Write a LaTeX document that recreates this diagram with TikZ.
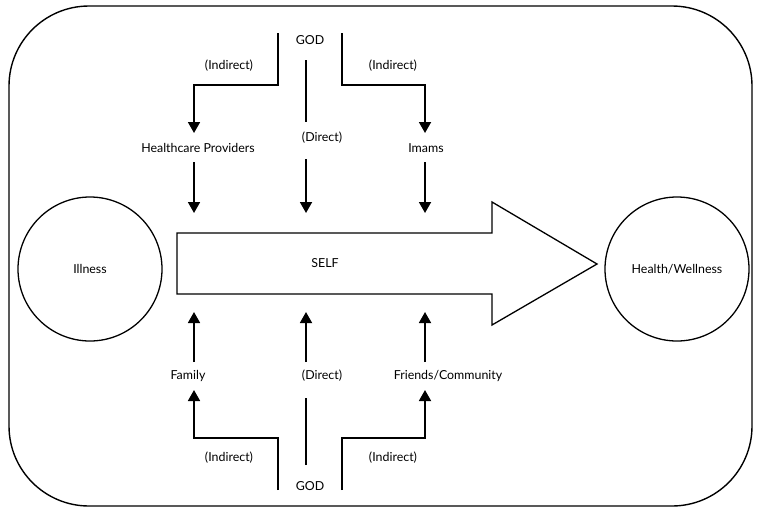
\documentclass[tikz,border=0pt]{standalone}
\usepackage{fontspec}
\setmainfont{Lato}
\usetikzlibrary{arrows.meta}
\begin{document}
\begin{tikzpicture}[x=1pt,y=-1pt,
  lbl/.style={font=\fontsize{12.4}{14}\selectfont, inner sep=1pt},
  ring/.style={draw, circle, line width=1.3pt, minimum size=144pt, inner sep=0pt, font=\fontsize{12.4}{14}\selectfont},
  conn/.style={line width=1.8pt, line join=miter},
  arr/.style={conn, -{Triangle[width=12pt,length=11pt]}},
  frame/.style={draw, line width=1.4pt, rounded corners=80pt}]
\useasboundingbox (0,0) rectangle (760,512);
\draw[frame] (9,6) rectangle (752,506);
% circles
\node[ring] (ill) at (90,269) {Illness};
\node[ring] (hw) at (677,269) {Health/Wellness};
% SELF arrow
\draw[line width=1.3pt, line join=miter] (177,233) -- (492,233) -- (492,202) -- (597,264) -- (492,325) -- (492,294) -- (177,294) -- cycle;
\node[lbl] (self) at (325,263) {SELF};
% top texts
\node[lbl] (godt) at (310,40) {GOD};
\node[lbl] (indtl) at (229,66) {(Indirect)};
\node[lbl] (indtr) at (393,66) {(Indirect)};
\node[lbl] (dirt) at (322,138) {(Direct)};
\node[lbl] (hp) at (198,148) {Healthcare Providers};
\node[lbl] (imams) at (426,148) {Imams};
% bottom texts
\node[lbl] (godb) at (310,486) {GOD};
\node[lbl] (indbl) at (229,458) {(Indirect)};
\node[lbl] (indbr) at (393,458) {(Indirect)};
\node[lbl] (dirb) at (322,376) {(Direct)};
\node[lbl] (fam) at (188,376) {Family};
\node[lbl] (fc) at (448,376) {Friends/Community};
% coordinates top
\coordinate (tl0) at (278,33); \coordinate (tl1) at (278,85); \coordinate (tl2) at (194,133);
\coordinate (tr0) at (342,33); \coordinate (tr1) at (342,85); \coordinate (tr2) at (425,133);
\coordinate (tm0) at (306,60); \coordinate (tm1) at (306,122);
\coordinate (hpa) at (194,162); \coordinate (hpb) at (194,213);
\coordinate (dma) at (306,159); \coordinate (dmb) at (306,213);
\coordinate (ima) at (425,162); \coordinate (imb) at (425,213);
% coordinates bottom
\coordinate (bl0) at (278,490); \coordinate (bl1) at (278,438); \coordinate (bl2) at (194,390);
\coordinate (br0) at (342,490); \coordinate (br1) at (342,438); \coordinate (br2) at (425,390);
\coordinate (bm0) at (306,465); \coordinate (bm1) at (306,398);
\coordinate (faa) at (194,362); \coordinate (fab) at (194,312);
\coordinate (dba) at (306,362); \coordinate (dbb) at (306,312);
\coordinate (fca) at (425,362); \coordinate (fcb) at (425,312);
% top connectors
\draw[arr] (tl0) -- (tl1) -| (tl2);
\draw[arr] (tr0) -- (tr1) -| (tr2);
\draw[conn] (tm0) -- (tm1);
\draw[arr] (hpa) -- (hpb);
\draw[arr] (dma) -- (dmb);
\draw[arr] (ima) -- (imb);
% bottom connectors
\draw[arr] (bl0) -- (bl1) -| (bl2);
\draw[arr] (br0) -- (br1) -| (br2);
\draw[conn] (bm0) -- (bm1);
\draw[arr] (faa) -- (fab);
\draw[arr] (dba) -- (dbb);
\draw[arr] (fca) -- (fcb);
\end{tikzpicture}
\end{document}
